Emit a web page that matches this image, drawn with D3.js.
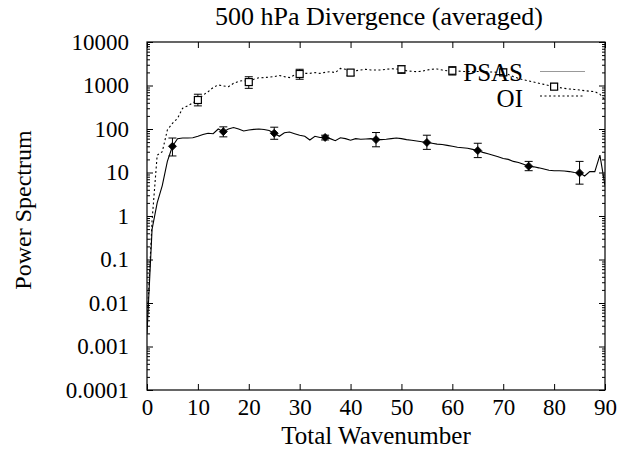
<!DOCTYPE html>
<html><head><meta charset="utf-8">
<script src="https://cdn.jsdelivr.net/npm/d3@7"></script>
<style>
body{margin:0;background:#fff}
text{font-family:"Liberation Serif","Times New Roman",serif;fill:#000}
</style>
</head><body>
<svg id="c" width="629" height="452"></svg>
<script>
// ---- data ----
const wavenumbers = d3.range(0, 91);
const psas = [0.002,0.5,2,5,18,40,60,62,62,63,
  68,75,80,78,100,87,100,108,100,90,
  95,98,100,97,92,80,68,82,85,78,
  72,68,56,68,64,64,60,54,63,60,
  55,60,58,59,60,57,57,58,60,62,
  60,57,55,53,51,49,47,45,44,42,
  40,38,37,36,34,32,29,27,25,23,
  21,20,18,17,15.5,14,13.5,12.8,12,11.3,
  11,11,10.8,10.5,10,9.8,8.3,10.5,10.5,25,5];
const oi = [0.003,0.8,25,30,95,135,175,300,340,400,
  464,600,720,900,1030,980,940,1120,1250,1300,
  1200,1400,1500,1520,1560,1600,1700,1600,1520,1740,
  1840,1900,1900,1980,1900,2000,2080,1980,2470,2360,
  1980,2180,2270,2360,2270,2270,2270,2360,2420,2400,
  2360,2180,2120,2080,2120,2270,2360,2400,2270,2180,
  2180,2150,2100,2100,2100,2100,2100,2050,2050,2000,
  2000,1800,1600,1450,1350,1280,1200,1130,1060,1000,
  940,900,860,830,810,790,760,740,720,630,464];
const psasBarN  = [5,15,25,35,45,55,65,75,85];
const psasBarLo = [24,66,58,56,39,34,22,11,5.4];
const psasBarHi = [62,112,110,72,83,72,47,18,18];
const oiBarN  = [10,20,30,40,50,60,70,80];
const oiBarLo = [340,860,1390,1680,1900,1740,1700,815];
const oiBarHi = [630,1590,2360,2280,2870,2710,2400,1120];
const xTicks = [0,10,20,30,40,50,60,70,80,90];
const yTicks = [1e-4,1e-3,1e-2,1e-1,1,10,100,1000,1e4];
const yTickLabels = ["0.0001","0.001","0.01","0.1","1","10","100","1000","10000"];
const seriesNames = ["PSAS","OI"];

// ---- layout ----
const L = 147, R = 605, T = 42, B = 390;
const svg = d3.select("#c");
const x = d3.scaleLinear().domain([0, 90]).range([L, R]);
const y = d3.scaleLog().domain([1e-4, 1e4]).range([B, T]);

const minor = [];
for (let e = -4; e < 4; e++) for (let k = 2; k <= 9; k++) minor.push(k * Math.pow(10, e));

function styleAxis(g) {
  g.select(".domain").remove();
  g.selectAll(".tick line").attr("stroke", "#000").attr("stroke-width", 1);
  g.selectAll(".tick text").attr("font-family", '"Liberation Serif",serif').attr("font-size", 23).attr("fill", "#000");
}

// axes (ticks inward)
svg.append("g").attr("transform", `translate(0,${B})`)
  .call(d3.axisBottom(x).tickValues(xTicks).tickFormat(d3.format("d")).tickSizeInner(-6).tickSizeOuter(0).tickPadding(9))
  .call(styleAxis);
svg.append("g").attr("transform", `translate(0,${T})`)
  .call(d3.axisTop(x).tickValues(xTicks).tickFormat("").tickSizeInner(-6).tickSizeOuter(0))
  .call(styleAxis);
svg.append("g").attr("transform", `translate(${L},0)`)
  .call(d3.axisLeft(y).tickValues(yTicks).tickFormat((d, i) => yTickLabels[i]).tickSizeInner(-6).tickSizeOuter(0).tickPadding(18))
  .call(styleAxis);
svg.append("g").attr("transform", `translate(${L},0)`)
  .call(d3.axisLeft(y).tickValues(minor).tickFormat("").tickSizeInner(-3).tickSizeOuter(0))
  .call(styleAxis);
svg.append("g").attr("transform", `translate(${R},0)`)
  .call(d3.axisRight(y).tickValues(yTicks).tickFormat("").tickSizeInner(-6).tickSizeOuter(0))
  .call(styleAxis);
svg.append("g").attr("transform", `translate(${R},0)`)
  .call(d3.axisRight(y).tickValues(minor).tickFormat("").tickSizeInner(-3).tickSizeOuter(0))
  .call(styleAxis);

// frame
svg.append("rect").attr("x", L).attr("y", T).attr("width", R - L).attr("height", B - T)
  .attr("fill", "none").attr("stroke", "#000").attr("stroke-width", 1.2);

// clip
svg.append("clipPath").attr("id", "clip").append("rect")
  .attr("x", L).attr("y", T).attr("width", R - L).attr("height", B - T);

const line = d3.line().x((d, i) => x(wavenumbers[i])).y(d => y(d));
const plot = svg.append("g").attr("clip-path", "url(#clip)");

plot.append("path").datum(oi).attr("d", line).attr("fill", "none")
  .attr("stroke", "#000").attr("stroke-width", 1.1).attr("stroke-dasharray", "2,2.5");
plot.append("path").datum(psas).attr("d", line).attr("fill", "none")
  .attr("stroke", "#000").attr("stroke-width", 1.1);

// error bars
function errBars(ns, lo, hi) {
  const g = svg.append("g").attr("stroke", "#000").attr("stroke-width", 1);
  ns.forEach((n, i) => {
    const cx = x(n);
    g.append("line").attr("x1", cx).attr("x2", cx).attr("y1", y(lo[i])).attr("y2", y(hi[i]));
    g.append("line").attr("x1", cx - 4).attr("x2", cx + 4).attr("y1", y(lo[i])).attr("y2", y(lo[i]));
    g.append("line").attr("x1", cx - 4).attr("x2", cx + 4).attr("y1", y(hi[i])).attr("y2", y(hi[i]));
  });
}
errBars(psasBarN, psasBarLo, psasBarHi);
errBars(oiBarN, oiBarLo, oiBarHi);

// markers
svg.append("g").selectAll("path").data(psasBarN).join("path")
  .attr("transform", n => `translate(${x(n)},${y(psas[n])})`)
  .attr("d", "M0,-4L4,0L0,4L-4,0Z").attr("fill", "#000").attr("stroke", "#000").attr("stroke-width", 0.8);
svg.append("g").selectAll("rect").data(oiBarN).join("rect")
  .attr("x", n => x(n) - 3.5).attr("y", n => y(oi[n]) - 3.5)
  .attr("width", 7).attr("height", 7).attr("fill", "#fff").attr("stroke", "#000").attr("stroke-width", 1.2);

// legend
const leg = svg.append("g");
leg.append("text").attr("x", 523).attr("y", 81).attr("text-anchor", "end").attr("font-size", 25).text(seriesNames[0]);
leg.append("line").attr("x1", 540).attr("x2", 585).attr("y1", 71.5).attr("y2", 71.5).attr("stroke", "#999").attr("stroke-width", 1.2);
leg.append("text").attr("x", 523).attr("y", 107).attr("text-anchor", "end").attr("font-size", 25).text(seriesNames[1]);
leg.append("line").attr("x1", 540).attr("x2", 585).attr("y1", 96).attr("y2", 96).attr("stroke", "#000").attr("stroke-width", 1.1).attr("stroke-dasharray", "2,2.5");

// titles
svg.append("text").attr("x", 379).attr("y", 25).attr("text-anchor", "middle").attr("font-size", 26)
  .text("500 hPa Divergence (averaged)");
svg.append("text").attr("x", 376).attr("y", 444).attr("text-anchor", "middle").attr("font-size", 25)
  .text("Total Wavenumber");
svg.append("text").attr("transform", "translate(31,210) rotate(-90)").attr("text-anchor", "middle").attr("font-size", 24)
  .text("Power Spectrum");
</script>
</body></html>
